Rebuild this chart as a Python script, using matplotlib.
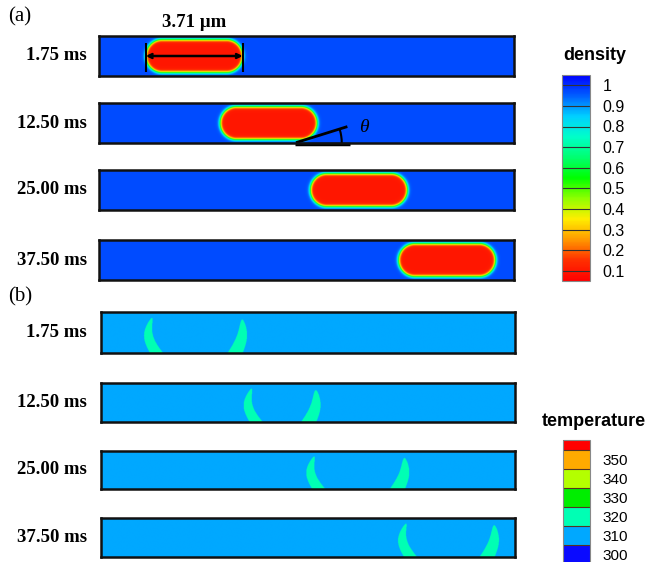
import numpy as np
import matplotlib.pyplot as plt
from matplotlib.colors import LinearSegmentedColormap, ListedColormap, BoundaryNorm, Normalize
from matplotlib.cm import ScalarMappable
from matplotlib.patches import Arc

# --- data ---
times = ['1.75 ms', '12.50 ms', '25.00 ms', '37.50 ms']
channel_len = 15.9          # um
channel_h = 1.5             # um
drop_len = 3.71             # um
drop_h = 1.24               # um
drop_center = [3.65, 6.50, 9.96, 13.34]
rho_drop = 0.1
rho_gas = 0.97

# hot spots (top tip x, um) at the rear and front of the droplet
rear_tip = [1.95, 5.77, 8.17, 11.69]
front_tip = [5.41, 8.23, 11.63, 15.07]
T_base = 310
T_spot = 320

theta_deg = 17
theta_x0 = 7.6
theta_len = 1.95

density_ticks = [0.1, 0.2, 0.3, 0.4, 0.5, 0.6, 0.7, 0.8, 0.9, 1.0]
density_labels = ['0.1', '0.2', '0.3', '0.4', '0.5', '0.6', '0.7', '0.8', '0.9', '1']
temp_ticks = [300, 310, 320, 330, 340, 350]
temp_bounds = [295, 305, 315, 325, 335, 345, 355, 360]
temp_colors = ['#0a0aff', '#00a8ff', '#00ffb4', '#00ee00', '#b4ff00', '#ffaa00', '#ff0000']

dens_nodes = [0.05, 0.15, 0.25, 0.35, 0.45, 0.55, 0.65, 0.75, 0.85, 0.95, 1.05]
dens_colors = ['#ff0000', '#ff3000', '#ff9900', '#ffee00', '#90ff00', '#00ff00',
               '#00ff70', '#00ffc8', '#00d0ff', '#0060ff', '#0000ff']

W, H = 651, 562
fig = plt.figure(figsize=(W / 100, H / 100), dpi=100)

dens_norm = Normalize(0.05, 1.05)
dens_cmap = LinearSegmentedColormap.from_list(
    'dens', [((v - 0.05) / 1.0, c) for v, c in zip(dens_nodes, dens_colors)])
temp_cmap = ListedColormap(temp_colors)
temp_norm = BoundaryNorm(temp_bounds, temp_cmap.N)


def px_axes(x0, y0, x1, y1):
    return fig.add_axes([x0 / W, 1 - y1 / H, (x1 - x0) / W, (y1 - y0) / H])


def style_channel(ax):
    ax.set_xlim(0, channel_len)
    ax.set_ylim(0, channel_h)
    ax.set_xticks([])
    ax.set_yticks([])
    for sp in ax.spines.values():
        sp.set_linewidth(1.8)
        sp.set_color('#111111')


label_font = dict(family='Liberation Serif', weight='bold', fontsize=13.5)

x = np.linspace(0, channel_len, 1200)
y = np.linspace(0, channel_h, 120)
X, Y = np.meshgrid(x, y)

# (a) density
rows_a = [(36, 76), (103, 143), (170, 210), (240, 280)]
for i, (y0, y1) in enumerate(rows_a):
    ax = px_axes(99, y0, 514, y1)
    xc = drop_center[i]
    r = drop_h / 2
    dx = np.maximum(np.abs(X - xc) - (drop_len / 2 - r), 0)
    dy = np.abs(Y - channel_h / 2)
    d = np.hypot(dx, dy) - r
    rho = rho_drop + (rho_gas - rho_drop) / (1 + np.exp(-d / 0.035))
    ax.imshow(rho, extent=[0, channel_len, 0, channel_h], origin='lower',
              cmap=dens_cmap, norm=dens_norm, aspect='auto', interpolation='bilinear')
    style_channel(ax)
    fig.text(87 / W, 1 - (y0 + y1) / 2 / H, times[i], ha='right', va='center', **label_font)

    if i == 0:
        xr, xf = xc - drop_len / 2, xc + drop_len / 2
        ax.vlines([xr, xf], 0.15, 1.25, color='k', lw=1.5, clip_on=False)
        ax.annotate('', xy=(xr, channel_h / 2), xytext=(xf, channel_h / 2),
                    arrowprops=dict(arrowstyle='<->', lw=1.8, color='k',
                                    shrinkA=0, shrinkB=0, mutation_scale=7))
        ax.text(xc, 1.33, f'{drop_len:.2f} \u00b5m', transform=ax.get_xaxis_transform(),
                ha='center', va='center', **label_font)
    if i == 1:
        t = np.deg2rad(theta_deg)
        ax.plot([theta_x0 - 0.1, theta_x0 + 2.0], [-0.02, -0.02], color='k', lw=2.5,
                clip_on=False, solid_capstyle='butt')
        ax.plot([theta_x0, theta_x0 + theta_len * np.cos(t)],
                [0.03, 0.03 + theta_len * np.sin(t)], color='k', lw=2, clip_on=False)
        ax.add_patch(Arc((theta_x0, 0.0), 3.4, 3.4, theta1=0, theta2=theta_deg,
                         color='k', lw=1.5, clip_on=False))
        ax.text(theta_x0 + 2.55, 0.58, '\u03b8', family='Liberation Serif', style='italic',
                fontsize=14, ha='center', va='center', clip_on=False)

fig.text(8 / W, 1 - 17 / H, '(a)', family='Liberation Serif', fontsize=15, va='center')
fig.text(8 / W, 1 - 297 / H, '(b)', family='Liberation Serif', fontsize=15, va='center')

# (b) temperature
rows_b = [(312, 353), (383, 422), (451, 489), (518, 557)]
for i, (y0, y1) in enumerate(rows_b):
    ax = px_axes(101, y0, 515, y1)
    T = np.full(X.shape, float(T_base))
    s = Y / channel_h
    # rear spot
    tt = s / 0.86
    xr = rear_tip[i] + 0.17 * (1 - tt) - 0.22 * np.sin(np.pi * tt)
    wr = 0.25 * np.clip(1 - tt, 0, 1) ** 0.55
    T[(tt <= 1) & (np.abs(X - xr) < wr)] = T_spot
    # front spot
    tt = s / 0.82
    xf = front_tip[i] - 0.27 * (1 - tt) + 0.12 * np.sin(np.pi * tt)
    wf = 0.29 * np.clip(1 - tt, 0, 1) ** 0.55
    T[(tt <= 1) & (np.abs(X - xf) < wf)] = T_spot
    ax.imshow(T, extent=[0, channel_len, 0, channel_h], origin='lower',
              cmap=temp_cmap, norm=temp_norm, aspect='auto', interpolation='antialiased')
    style_channel(ax)
    fig.text(87 / W, 1 - (y0 + y1) / 2 / H, times[i], ha='right', va='center', **label_font)

# colorbars
cb_font = dict(family='Liberation Sans')
cax = px_axes(562, 75, 590, 281)
cb = fig.colorbar(ScalarMappable(norm=dens_norm, cmap=dens_cmap), cax=cax, ticks=density_ticks)
cb.ax.set_yticklabels(density_labels, fontsize=11.5, **cb_font)
cb.ax.tick_params(length=0, pad=9)
cb.ax.minorticks_off()
for lev in density_ticks:
    cax.axhline(lev, color='#333333', lw=0.8)
cb.outline.set_edgecolor('#888888')
cb.outline.set_linewidth(0.8)
fig.text(595 / W, 1 - 55 / H, 'density', ha='center', va='center', fontsize=13,
         weight='bold', **cb_font)

cax2 = px_axes(563, 440, 590, 564)
cb2 = fig.colorbar(ScalarMappable(norm=temp_norm, cmap=temp_cmap), cax=cax2,
                   boundaries=temp_bounds, ticks=temp_ticks, spacing='proportional',
                   drawedges=True)
cb2.ax.set_yticklabels([str(v) for v in temp_ticks], fontsize=11, **cb_font)
cb2.ax.tick_params(length=0, pad=9)
cb2.ax.minorticks_off()
cb2.dividers.set_color('#553322')
cb2.dividers.set_linewidth(0.8)
cb2.outline.set_edgecolor('#888888')
cb2.outline.set_linewidth(0.8)
fig.text(594 / W, 1 - 422 / H, 'temperature', ha='center', va='center', fontsize=13,
         weight='bold', **cb_font)

fig.savefig('out.png', dpi=100)
